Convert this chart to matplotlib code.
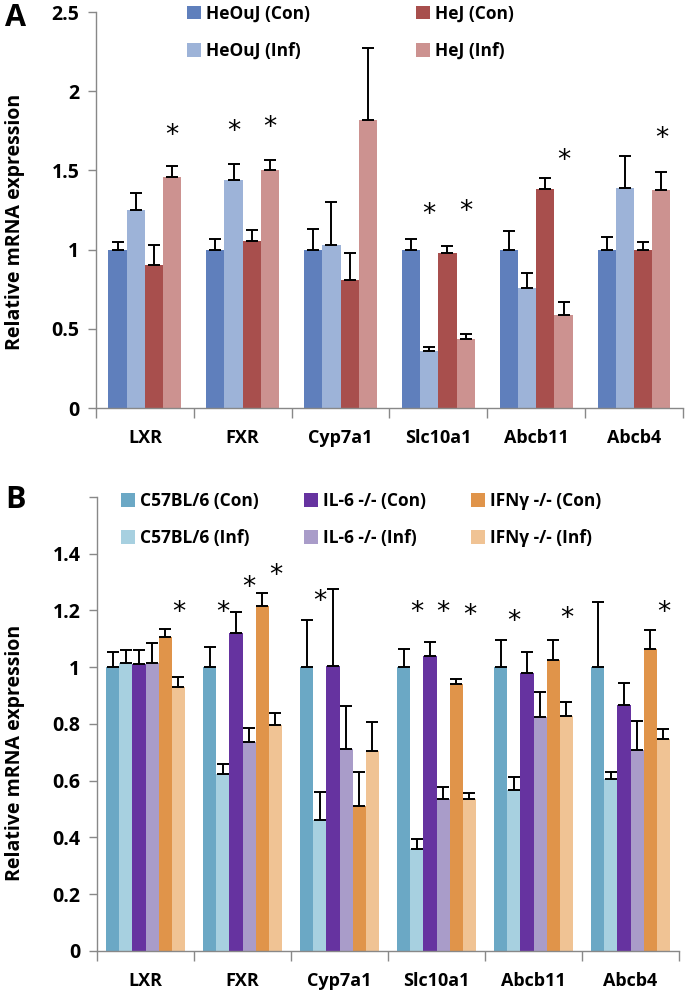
import numpy as np
import matplotlib
matplotlib.use("Agg")
import matplotlib.pyplot as plt

plt.rcParams['font.family'] = ['Open Sans', 'DejaVu Sans']
plt.rcParams['font.weight'] = 'bold'

genes = ["LXR", "FXR", "Cyp7a1", "Slc10a1", "Abcb11", "Abcb4"]

# Panel A
labels_a = ["HeOuJ (Con)", "HeOuJ (Inf)", "HeJ (Con)", "HeJ (Inf)"]
colors_a = ["#5f7fbc", "#9db3d8", "#a84f4d", "#cc9290"]
heouj_con = [1.00, 1.00, 1.00, 1.00, 1.00, 1.00]
heouj_inf = [1.25, 1.44, 1.03, 0.36, 0.755, 1.39]
hej_con = [0.90, 1.055, 0.81, 0.98, 1.38, 1.00]
hej_inf = [1.46, 1.50, 1.82, 0.435, 0.59, 1.375]
heouj_con_err = [0.05, 0.07, 0.13, 0.07, 0.12, 0.08]
heouj_inf_err = [0.11, 0.10, 0.27, 0.025, 0.095, 0.20]
hej_con_err = [0.13, 0.07, 0.17, 0.04, 0.07, 0.05]
hej_inf_err = [0.07, 0.065, 0.45, 0.035, 0.08, 0.115]
# significance stars: (gene index, series index, y)
stars_a = [(0, 3, 1.72), (1, 1, 1.74), (1, 3, 1.77), (3, 1, 1.22),
           (3, 3, 1.24), (4, 3, 1.56), (5, 3, 1.70)]

# Panel B
labels_b = ["C57BL/6 (Con)", "C57BL/6 (Inf)", "IL-6 -/- (Con)", "IL-6 -/- (Inf)",
            "IFNγ -/- (Con)", "IFNγ -/- (Inf)"]
colors_b = ["#6ba8c5", "#a7d0e0", "#6633a0", "#a99cc9", "#e0944a", "#f0c394"]
c57_con = [1.00, 1.00, 1.00, 1.00, 1.00, 1.00]
c57_inf = [1.015, 0.625, 0.462, 0.36, 0.568, 0.607]
il6_con = [1.01, 1.12, 1.005, 1.04, 0.978, 0.866]
il6_inf = [1.015, 0.735, 0.713, 0.537, 0.826, 0.71]
ifn_con = [1.105, 1.217, 0.51, 0.94, 1.027, 1.065]
ifn_inf = [0.93, 0.797, 0.706, 0.537, 0.827, 0.748]
c57_con_err = [0.055, 0.07, 0.165, 0.065, 0.095, 0.23]
c57_inf_err = [0.045, 0.035, 0.10, 0.035, 0.045, 0.025]
il6_con_err = [0.05, 0.075, 0.27, 0.05, 0.077, 0.08]
il6_inf_err = [0.07, 0.05, 0.15, 0.04, 0.085, 0.10]
ifn_con_err = [0.03, 0.045, 0.12, 0.02, 0.068, 0.065]
ifn_inf_err = [0.035, 0.04, 0.10, 0.02, 0.05, 0.035]
stars_b = [(0, 5, 1.19), (1, 1, 1.19), (1, 3, 1.28), (1, 5, 1.32), (2, 1, 1.23),
           (3, 1, 1.19), (3, 3, 1.19), (3, 5, 1.18), (4, 1, 1.16), (4, 5, 1.17),
           (5, 5, 1.19)]

GRAY = "#888888"


def grouped(ax, series, errs, labels, colors, stars, group_w):
    n = len(series)
    w = group_w / n
    x = np.arange(len(genes))
    for i, (vals, err) in enumerate(zip(series, errs)):
        pos = x - group_w / 2 + w * (i + 0.5)
        ax.bar(pos, vals, w, color=colors[i], label=labels[i], zorder=2)
        ax.errorbar(pos, vals, yerr=[np.zeros(len(err)), err], fmt='none',
                    ecolor='black', elinewidth=1.4, capsize=4.5, capthick=1.4, zorder=3)
    for g, s, y in stars:
        ax.text(g - group_w / 2 + w * (s + 0.5), y, "*", ha='center', va='center',
                fontsize=19, fontweight='normal', family='DejaVu Sans')
    ax.set_xlim(-0.5, len(genes) - 0.5)
    ax.set_xticks(x)
    ax.set_xticklabels(genes, fontsize=13)
    ax.set_xticks(np.arange(-0.5, len(genes)), minor=True)
    ax.tick_params(axis='x', which='major', length=0, pad=15)
    ax.tick_params(axis='x', which='minor', length=7, color=GRAY, width=1)
    ax.tick_params(axis='y', length=6, color=GRAY, width=1, labelsize=14, pad=6)
    for sp in ['top', 'right']:
        ax.spines[sp].set_visible(False)
    for sp in ['left', 'bottom']:
        ax.spines[sp].set_color(GRAY)
        ax.spines[sp].set_linewidth(1)
    ax.set_ylabel("Relative mRNA expression", fontsize=14, fontweight='bold')


fig = plt.figure(figsize=(6.87, 9.94), dpi=100)

ax1 = fig.add_axes([0.1397, 0.5895, 0.8544, 0.3984])
grouped(ax1, [heouj_con, heouj_inf, hej_con, hej_inf],
        [heouj_con_err, heouj_inf_err, hej_con_err, hej_inf_err],
        labels_a, colors_a, stars_a, 0.745)
ax1.set_ylim(0, 2.5)
ax1.set_yticks([0, 0.5, 1, 1.5, 2, 2.5])
ax1.set_yticklabels(["0", "0.5", "1", "1.5", "2", "2.5"])
ax1.yaxis.set_label_coords(-0.121, 0.47)
ax1.legend(ncol=2, loc='upper left', bbox_to_anchor=(0.14, 1.04), frameon=False,
           fontsize=12.5, handlelength=0.8, handleheight=0.8, handletextpad=0.3,
           columnspacing=6.1, labelspacing=1.1, borderpad=0)

ax2 = fig.add_axes([0.1412, 0.0433, 0.8472, 0.4567])
grouped(ax2, [c57_con, c57_inf, il6_con, il6_inf, ifn_con, ifn_inf],
        [c57_con_err, c57_inf_err, il6_con_err, il6_inf_err, ifn_con_err, ifn_inf_err],
        labels_b, colors_b, stars_b, 0.815)
ax2.set_ylim(0, 1.6)
ax2.set_yticks([0, 0.2, 0.4, 0.6, 0.8, 1, 1.2, 1.4, 1.6])
ax2.set_yticklabels(["0", "0.2", "0.4", "0.6", "0.8", "1", "1.2", "1.4", ""])
ax2.yaxis.set_label_coords(-0.124, 0.436)
ax2.legend(ncol=3, loc='upper left', bbox_to_anchor=(0.026, 1.03), frameon=False,
           fontsize=12.5, handlelength=0.8, handleheight=0.8, handletextpad=0.3,
           columnspacing=2.6, labelspacing=1.1, borderpad=0)

fig.text(0.022, 0.982, "A", fontsize=22, fontweight='bold', ha='center', va='center')
fig.text(0.022, 0.497, "B", fontsize=22, fontweight='bold', ha='center', va='center')

fig.savefig("out.png", dpi=100)
